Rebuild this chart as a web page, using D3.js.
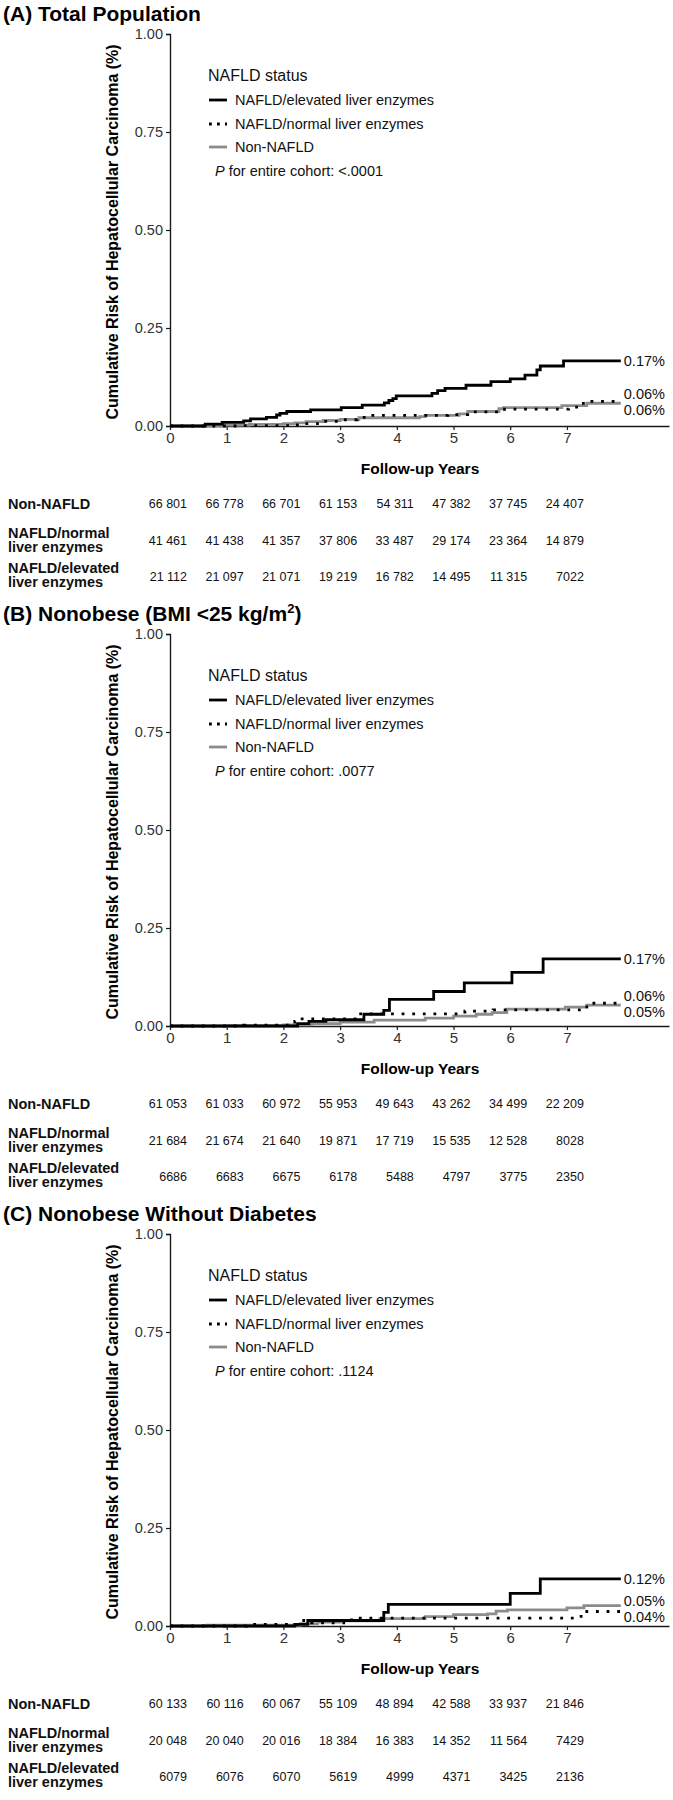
<!DOCTYPE html>
<html><head><meta charset="utf-8">
<script src="https://cdn.jsdelivr.net/npm/d3@7"></script>
<style>
body{margin:0;background:#fff;}
svg{display:block;font-family:"Liberation Sans",Arial,Helvetica,sans-serif;}
</style></head>
<body><svg id="chart" width="673" height="1800"></svg>
<script>
// ---------- data ----------
const tickYears = [0,1,2,3,4,5,6,7];
const yTicks = [0,0.25,0.5,0.75,1];
const yTickLabels = ["0.00","0.25","0.50","0.75","1.00"];
const panelTitles = ["(A) Total Population","(B) Nonobese (BMI <25 kg/m","(C) Nonobese Without Diabetes"];
const pValues = ["<.0001",".0077",".1124"];
const legendTitle = "NAFLD status";
const legendLabels = ["NAFLD/elevated liver enzymes","NAFLD/normal liver enzymes","Non-NAFLD"];
const tableRowLabels = [["Non-NAFLD"],["NAFLD/normal","liver enzymes"],["NAFLD/elevated","liver enzymes"]];
const endTime = 7.95;

// step curves: [year, cumulative risk %]
const elevA = [[0,0],[0.62,0.005],[0.92,0.009],[1.3,0.013],[1.42,0.018],[1.7,0.022],[1.88,0.028],[1.94,0.032],[2.06,0.037],[2.48,0.041],[3.02,0.047],[3.39,0.053],[3.78,0.059],[3.86,0.065],[3.93,0.07],[3.99,0.077],[4.62,0.083],[4.72,0.09],[4.85,0.096],[5.22,0.104],[5.66,0.113],[6.0,0.12],[6.26,0.13],[6.47,0.143],[6.53,0.153],[6.94,0.166]];
const normA = [[0,0],[1.3,0.001],[2.1,0.003],[2.3,0.006],[2.6,0.012],[3.0,0.016],[3.3,0.022],[3.5,0.027],[4.9,0.029],[5.25,0.036],[5.9,0.043],[7.03,0.048],[7.29,0.063]];
const nonA  = [[0,0],[0.9,0.002],[1.4,0.004],[2.0,0.006],[2.2,0.008],[2.4,0.011],[2.7,0.014],[3.0,0.017],[3.33,0.021],[4.4,0.024],[4.5,0.027],[5.1,0.031],[5.25,0.037],[5.8,0.044],[5.88,0.047],[6.91,0.052],[7.35,0.058]];

const elevB = [[0,0],[2.25,0.006],[2.45,0.012],[2.75,0.016],[3.42,0.03],[3.77,0.04],[3.87,0.068],[4.65,0.088],[5.19,0.11],[6.03,0.137],[6.58,0.171]];
const normB = [[0,0],[1.3,0.002],[2.2,0.012],[2.3,0.018],[3.3,0.031],[5.2,0.038],[5.7,0.041],[7.35,0.058]];
const nonB  = [[0,0],[1.0,0.001],[2.0,0.003],[2.5,0.006],[3.0,0.01],[3.6,0.015],[4.5,0.02],[5.0,0.025],[5.4,0.03],[5.68,0.034],[5.94,0.043],[6.97,0.048],[7.35,0.053]];

const elevC = [[0,0],[2.2,0.004],[2.43,0.014],[3.77,0.035],[3.85,0.055],[6.0,0.083],[6.53,0.12]];
const normC = [[0,0],[1.35,0.004],[2.25,0.014],[2.5,0.008],[3.2,0.02],[7.25,0.037]];
const nonC  = [[0,0],[0.65,0.002],[2.3,0.006],[2.6,0.01],[3.0,0.013],[3.7,0.019],[4.5,0.024],[5.0,0.029],[5.6,0.031],[5.75,0.038],[5.95,0.041],[7.0,0.046],[7.3,0.052]];

const endLabelsA = ["0.17%","0.06%","0.06%"];
const endLabelsB = ["0.17%","0.06%","0.05%"];
const endLabelsC = ["0.12%","0.04%","0.05%"];

// numbers at risk
const riskNonA  = [66801,66778,66701,61153,54311,47382,37745,24407];
const riskNormA = [41461,41438,41357,37806,33487,29174,23364,14879];
const riskElevA = [21112,21097,21071,19219,16782,14495,11315,7022];
const riskNonB  = [61053,61033,60972,55953,49643,43262,34499,22209];
const riskNormB = [21684,21674,21640,19871,17719,15535,12528,8028];
const riskElevB = [6686,6683,6675,6178,5488,4797,3775,2350];
const riskNonC  = [60133,60116,60067,55109,48894,42588,33937,21846];
const riskNormC = [20048,20040,20016,18384,16383,14352,11564,7429];
const riskElevC = [6079,6076,6070,5619,4999,4371,3425,2136];

const panels = [
  {title:panelTitles[0], sup:false, p:pValues[0], series:[elevA,normA,nonA], ends:endLabelsA, risk:[riskNonA,riskNormA,riskElevA]},
  {title:panelTitles[1], sup:true,  p:pValues[1], series:[elevB,normB,nonB], ends:endLabelsB, risk:[riskNonB,riskNormB,riskElevB]},
  {title:panelTitles[2], sup:false, p:pValues[2], series:[elevC,normC,nonC], ends:endLabelsC, risk:[riskNonC,riskNormC,riskElevC]}
];

// ---------- styles ----------
const styles = [
  {stroke:"#000", width:2.8, dash:null, legDash:null},
  {stroke:"#000", width:2.8, dash:"2.8,7.8", legDash:"2.8,5.2"},
  {stroke:"#8c8c8c", width:2.8, dash:null, legDash:null}
];
const fmt = n => n >= 10000 ? d3.format(",")(n).replace(/,/g," ") : String(n);

const svg = d3.select("#chart");
const x = d3.scaleLinear().domain([0,8.8]).range([170,669]);

panels.forEach((P,i) => {
  const g = svg.append("g").attr("transform",`translate(0,${600*i})`);
  const y = d3.scaleLinear().domain([0,1]).range([426,34]);

  // title
  const t = g.append("text").attr("x",3).attr("y",21).attr("font-size",21).attr("font-weight","bold").attr("fill","#000").text(P.title);
  if (P.sup) {
    t.append("tspan").attr("font-size",13).attr("dy",-8).text("2");
    t.append("tspan").attr("font-size",21).attr("dy",8).text(")");
  }

  // y axis
  const ya = g.append("g").attr("transform","translate(170,0)")
    .call(d3.axisLeft(y).tickValues(yTicks).tickFormat((d,k)=>yTickLabels[k]).tickSize(4).tickPadding(3));
  ya.select(".domain").attr("stroke","#1a1a1a").attr("stroke-width",1.4);
  ya.selectAll(".tick line").attr("stroke","#1a1a1a").attr("stroke-width",1.2);
  ya.selectAll(".tick text").attr("font-size",14.5).attr("fill","#333").attr("font-family","Liberation Sans, Arial, sans-serif");

  // x axis
  const xa = g.append("g").attr("transform","translate(0,426)")
    .call(d3.axisBottom(x).tickValues(tickYears).tickFormat(d3.format("d")).tickSize(4).tickPadding(2).tickSizeOuter(0));
  xa.select(".domain").attr("stroke","#1a1a1a").attr("stroke-width",1.4);
  xa.selectAll(".tick line").attr("stroke","#1a1a1a").attr("stroke-width",1.2);
  xa.selectAll(".tick text").attr("font-size",15).attr("fill","#333").attr("font-family","Liberation Sans, Arial, sans-serif");

  // axis titles
  g.append("text").attr("transform",`translate(118,${(y(0)+y(1))/2 + 2}) rotate(-90)`).attr("text-anchor","middle")
    .attr("font-size",16).attr("font-weight","bold").text("Cumulative Risk of Hepatocellular Carcinoma (%)");
  g.append("text").attr("x",420).attr("y",474).attr("text-anchor","middle").attr("font-size",15.5).attr("font-weight","bold").text("Follow-up Years");

  // curves
  const line = d3.line().x(d=>x(d[0])).y(d=>y(d[1])).curve(d3.curveStepAfter);
  [2,1,0].forEach(k => {
    const s = P.series[k];
    const pts = s.concat([[endTime, s[s.length-1][1]]]);
    const st = styles[k];
    g.append("path").attr("d",line(pts)).attr("fill","none").attr("stroke",st.stroke)
      .attr("stroke-width",st.width).attr("stroke-dasharray",st.dash).attr("stroke-linejoin","miter");
  });

  // end labels with simple collision avoidance
  const minGap = 16;
  const labs = P.series.map((s,k)=>({k, text:P.ends[k], y:y(s[s.length-1][1])}));
  labs.sort((a,b)=>a.y-b.y);
  for (let pass=0; pass<6; pass++) {
    for (let j=1;j<labs.length;j++){
      const gap = labs[j].y - labs[j-1].y;
      if (gap < minGap) { const d=(minGap-gap)/2; labs[j].y += d; labs[j-1].y -= d; }
    }
  }
  labs.forEach(l => g.append("text").attr("x",x(endTime)+3).attr("y",l.y+5).attr("font-size",14.5).attr("fill","#111").text(l.text));

  // legend
  const lg = g.append("g");
  lg.append("text").attr("x",208).attr("y",81).attr("font-size",16).attr("fill","#111").text(legendTitle);
  const rows = [100,124,147];
  legendLabels.forEach((lab,k) => {
    const st = styles[k];
    lg.append("line").attr("x1",209).attr("x2",227).attr("y1",rows[k]).attr("y2",rows[k])
      .attr("stroke",st.stroke).attr("stroke-width",st.width).attr("stroke-dasharray",st.legDash);
    lg.append("text").attr("x",235).attr("y",rows[k]+5.2).attr("font-size",14.5).attr("fill","#111").text(lab);
  });
  const pt = lg.append("text").attr("x",215).attr("y",176).attr("font-size",14.5).attr("fill","#111");
  pt.append("tspan").attr("font-style","italic").text("P");
  pt.append("tspan").text(" for entire cohort: " + P.p);

  // risk table
  const labelBase = [[509],[538,552],[573,587]];
  const numBase = [508,545,581];
  tableRowLabels.forEach((lines,r) => {
    lines.forEach((ln,j)=> g.append("text").attr("x",8).attr("y",labelBase[r][j]).attr("font-size",14.5).attr("font-weight","bold").attr("fill","#111").text(ln));
    P.risk[r].forEach((v,c) => g.append("text").attr("x",x(tickYears[c])+17).attr("y",numBase[r]).attr("text-anchor","end").attr("font-size",12.5).attr("fill","#111").text(fmt(v)));
  });
});
</script></body></html>
